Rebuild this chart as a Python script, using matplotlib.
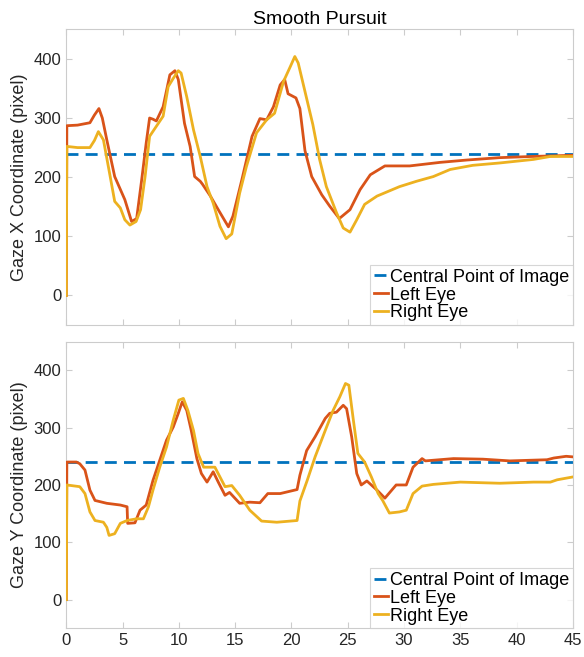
import matplotlib
matplotlib.use("Agg")
import matplotlib.pyplot as plt
import numpy as np

plt.rcParams['font.family'] = ['Liberation Sans', 'DejaVu Sans']

center_value = 240
x_limits = (0, 45)

# Top panel: Gaze X
lx_t = [0, 0.05, 1.0, 2.1, 2.5, 2.9, 3.2, 3.6, 4.3, 5.2, 5.8, 6.25, 6.7, 7.1, 7.4, 7.7, 8.0, 8.6,
        9.2, 9.65, 9.95, 10.5, 11.0, 11.4, 11.9, 12.1, 12.8, 13.5, 14.4, 14.8, 15.6, 16.5, 17.2, 17.8,
        18.4, 19.0, 19.4, 19.7, 20.4, 20.75, 21.2, 21.8, 22.7, 23.4, 24.25, 25.2, 26.1, 27.0, 28.3,
        30.5, 33.2, 35.6, 38.5, 41.4, 45.0]
ly_t = [0, 287, 288, 292, 305, 316, 300, 263, 201, 162, 125, 130, 196, 258, 300, 298, 295, 319,
        373, 380, 365, 291, 252, 201, 193, 188, 168, 145, 116, 134, 196, 269, 299, 297,
        319, 356, 365, 341, 334, 316, 245, 201, 170, 151, 130, 145, 179, 204, 219,
        219, 225, 229, 233, 235, 237]

rx_t = [0, 0.05, 1.0, 2.1, 2.5, 2.85, 3.3, 3.9, 4.3, 4.8, 5.2, 5.65, 6.2, 6.6, 7.0, 7.4, 8.0, 8.6,
        9.05, 9.5, 9.95, 10.2, 10.7, 11.3, 11.9, 12.5, 13.05, 13.65, 14.2, 14.7, 15.4, 16.0, 16.9,
        17.8, 18.5, 19.3, 19.9, 20.3, 20.6, 21.2, 21.9, 22.5, 23.1, 24.0, 24.6, 25.2, 25.8, 26.5,
        27.6, 28.6, 29.6, 31.1, 32.6, 34.1, 36.1, 38.5, 41.5, 43.0, 45.0]
ry_t = [0, 252, 250, 250, 262, 277, 263, 201, 159, 148, 128, 119, 125, 145, 201, 269, 286, 303,
        353, 367, 380, 376, 336, 280, 235, 184, 156, 117, 96, 104, 173, 218, 275,
        297, 308, 362, 387, 404, 393, 345, 289, 230, 184, 140, 114, 107, 128, 154,
        168, 176, 184, 193, 201, 213, 220, 224, 230, 235, 235]

# Bottom panel: Gaze Y
lx_b = [0, 0.05, 0.9, 1.2, 1.66, 2.1, 2.55, 3.6, 4.8, 5.4, 5.45, 6.1, 6.55, 7.1, 7.7, 8.3, 8.9,
        9.5, 9.95, 10.3, 10.7, 11.1, 11.6, 12.0, 12.5, 13.05, 13.5, 14.1, 14.5, 15.4, 16.3, 17.2,
        17.9, 19.0, 20.5, 20.75, 21.35, 22.1, 23.0, 23.4, 24.0, 24.6, 24.9, 25.35, 25.8, 26.2,
        26.7, 27.6, 28.3, 29.3, 30.2, 30.8, 31.6, 31.9, 34.4, 37.0, 39.4, 42.7, 43.3, 44.4, 45.0]
ly_b = [0, 240, 240, 237, 226, 191, 173, 168, 165, 162, 133, 134, 156, 165, 208, 243, 278,
        301, 325, 345, 330, 295, 246, 220, 205, 223, 205, 182, 187, 168, 170, 169,
        185, 185, 192, 217, 260, 284, 316, 325, 327, 339, 333, 284, 220, 200,
        207, 191, 177, 200, 200, 231, 246, 242, 246, 245, 242, 244, 247, 250, 249]

rx_b = [0, 0.05, 1.2, 1.66, 2.1, 2.55, 3.3, 3.6, 3.8, 4.3, 4.8, 5.4, 6.25, 6.85, 7.3, 7.7, 8.3,
        8.9, 9.5, 10.0, 10.4, 10.8, 11.3, 11.7, 12.2, 12.6, 13.2, 13.65, 14.1, 14.7, 15.4, 16.3,
        17.35, 18.7, 20.5, 20.75, 21.4, 22.1, 23.0, 23.7, 24.3, 24.8, 25.1, 25.5, 25.9, 26.5,
        27.1, 27.7, 28.1, 28.7, 29.6, 30.2, 30.8, 31.6, 32.6, 35.0, 38.5, 41.5, 43.0, 43.6, 45.0]
ry_b = [0, 200, 197, 185, 153, 138, 135, 126, 112, 115, 133, 138, 141, 141, 162, 191, 231,
        266, 313, 348, 351, 330, 295, 255, 231, 231, 231, 214, 197, 199, 182, 156,
        137, 135, 138, 172, 208, 249, 295, 330, 354, 377, 374, 313, 255, 240,
        214, 185, 173, 151, 153, 156, 185, 198, 201, 205, 203, 205, 205, 209, 214]

y_ticks = [0, 100, 200, 300, 400]
x_ticks = [0, 5, 10, 15, 20, 25, 30, 35, 40, 45]

c_blue = '#0072BD'
c_red = '#D95319'
c_yellow = '#EDB120'
spine_c = '#CCCCCC'
text_c = '#262626'

fig = plt.figure(figsize=(5.84, 6.57), dpi=100)
ax1 = fig.add_axes([0.1135, 0.5053, 0.8675, 0.4501])
ax2 = fig.add_axes([0.1135, 0.0437, 0.8675, 0.4363])

panels = [(ax1, lx_t, ly_t, rx_t, ry_t, 'Gaze X Coordinate (pixel)'),
          (ax2, lx_b, ly_b, rx_b, ry_b, 'Gaze Y Coordinate (pixel)')]

for ax, lx, ly, rx, ry, ylab in panels:
    ax.plot(list(x_limits), [center_value, center_value], '--', color=c_blue, lw=2,
            dashes=(4.3, 2.6), label='Central Point of Image')
    ax.plot(lx, ly, color=c_red, lw=2, label='Left Eye', zorder=3)
    ax.plot(rx, ry, color=c_yellow, lw=2, label='Right Eye', zorder=4)
    ax.set_xlim(*x_limits)
    ax.set_ylim(-50, 450)
    ax.set_yticks(y_ticks)
    ax.set_xticks(x_ticks)
    ax.set_ylabel(ylab, fontsize=13, color=text_c, labelpad=4)
    for s in ax.spines.values():
        s.set_color(spine_c)
        s.set_linewidth(0.8)
    ax.tick_params(direction='in', length=4, width=0.8, color=spine_c, labelsize=12,
                   labelcolor=text_c, top=True, right=True)
    leg = ax.legend(loc='lower right', fontsize=13, frameon=True, fancybox=False,
                    borderaxespad=0, handlelength=0.8, handletextpad=0.1,
                    borderpad=0.2, labelspacing=0.05)
    leg.get_frame().set_edgecolor(spine_c)
    leg.get_frame().set_linewidth(0.8)
    for t in leg.get_texts():
        t.set_color('black')

ax1.tick_params(labelbottom=False)
ax1.set_title('Smooth Pursuit', fontsize=14, color='black', pad=4)

fig.savefig('out.png', dpi=100)
